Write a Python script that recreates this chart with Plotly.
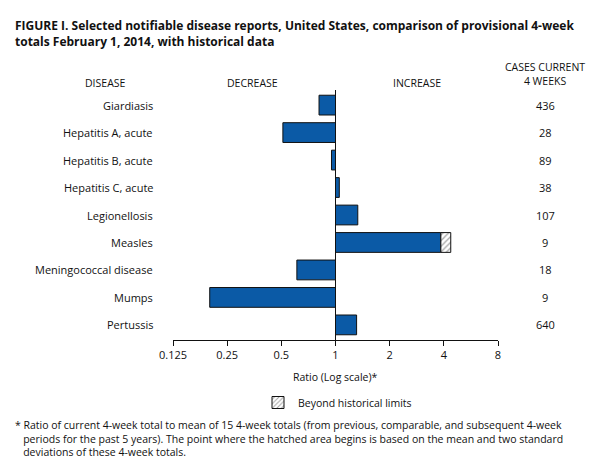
import plotly.graph_objects as go

# Data
diseases = ["Giardiasis", "Hepatitis A, acute", "Hepatitis B, acute", "Hepatitis C, acute",
            "Legionellosis", "Measles", "Meningococcal disease", "Mumps", "Pertussis"]
ratios = [0.81, 0.51, 0.95, 1.05, 1.33, 3.85, 0.61, 0.20, 1.31]
beyond_end = [None, None, None, None, None, 4.37, None, None, None]
cases = [436, 28, 89, 38, 107, 9, 18, 9, 640]
tick_vals = [0.125, 0.25, 0.5, 1, 2, 4, 8]
tick_text = ["0.125", "0.25", "0.5", "1", "2", "4", "8"]

FONT = "Open Sans"
BLUE = "#0b5aa6"
L, R, T, B = 165, 111, 82, 135
W, H = 601, 467
pw, ph = W - L - R, H - T - B


def px(x):
    return (x - L) / pw


def py(y):
    return (H - B - y) / ph


fig = go.Figure()
fig.add_trace(go.Bar(
    y=diseases, x=[abs(r - 1) for r in ratios], base=[min(r, 1) for r in ratios],
    orientation="h", marker=dict(color=BLUE, line=dict(color="#111", width=1)),
    width=0.72, showlegend=False))

hy = [d for d, b in zip(diseases, beyond_end) if b]
hb = [r for r, b in zip(ratios, beyond_end) if b]
hx = [b - r for r, b in zip(ratios, beyond_end) if b]
fig.add_trace(go.Bar(
    y=hy, x=hx, base=hb, orientation="h", width=0.72, name="Beyond historical limits",
    marker=dict(color="white", line=dict(color="#111", width=1),
                pattern=dict(shape="/", fgcolor="#444", size=4, solidity=0.3)),
    showlegend=True))

fig.add_shape(type="line", xref="x", yref="paper", x0=1, x1=1, y0=0, y1=1,
              line=dict(color="#111", width=1))

for d, c in zip(diseases, cases):
    fig.add_annotation(x=px(537), xref="paper", xanchor="center", y=d, text=str(c),
                       showarrow=False, font=dict(size=11, family=FONT, color="#111"))
    fig.add_annotation(x=0, xref="paper", xanchor="right", xshift=-18, y=d, text=d,
                       showarrow=False, font=dict(size=11, family=FONT, color="#111"))

texts = [
    (5, 7, "<b>FIGURE I. Selected notifiable disease reports, United States, comparison of provisional 4-week<br>totals February 1, 2014, with historical data</b>", "left", 12),
    (75, 66, "DISEASE", "left", 10.5),
    (217, 66, "DECREASE", "left", 10.5),
    (383, 66, "INCREASE", "left", 10.5),
    (537, 50, "CASES CURRENT<br>4 WEEKS", "center", 10.5),
    (327, 360, "Ratio (Log scale)*", "center", 10.5),
    (5, 408, "* Ratio of current 4-week total to mean of 15 4-week totals (from previous, comparable, and subsequent 4-week<br>   periods for the past 5 years). The point where the hatched area begins is based on the mean and two standard<br>   deviations of these 4-week totals.", "left", 10.5),
]
for x, y, t, a, s in texts:
    fig.add_annotation(x=px(x), y=py(y), xref="paper", yref="paper", text=t,
                       xanchor=a, yanchor="top", showarrow=False,
                       align="left" if a == "left" else "center",
                       font=dict(size=s, family=FONT, color="#111"))

fig.update_layout(
    width=W, height=H, margin=dict(l=L, r=R, t=T, b=B),
    paper_bgcolor="white", plot_bgcolor="white", barmode="overlay",
    font=dict(family=FONT, size=11, color="#111"),
    legend=dict(x=px(250), y=py(380), xanchor="left", yanchor="top",
                font=dict(size=10.5), bgcolor="rgba(0,0,0,0)"),
    xaxis=dict(type="log", range=[-0.9031, 0.9031], tickvals=tick_vals, ticktext=tick_text,
               showgrid=False, zeroline=False, showline=True, linecolor="#111",
               ticks="outside", ticklen=5, tickcolor="#111"),
    yaxis=dict(showticklabels=False, showgrid=False, range=[8.55, -0.55]),
)

fig.write_html("out.html")
